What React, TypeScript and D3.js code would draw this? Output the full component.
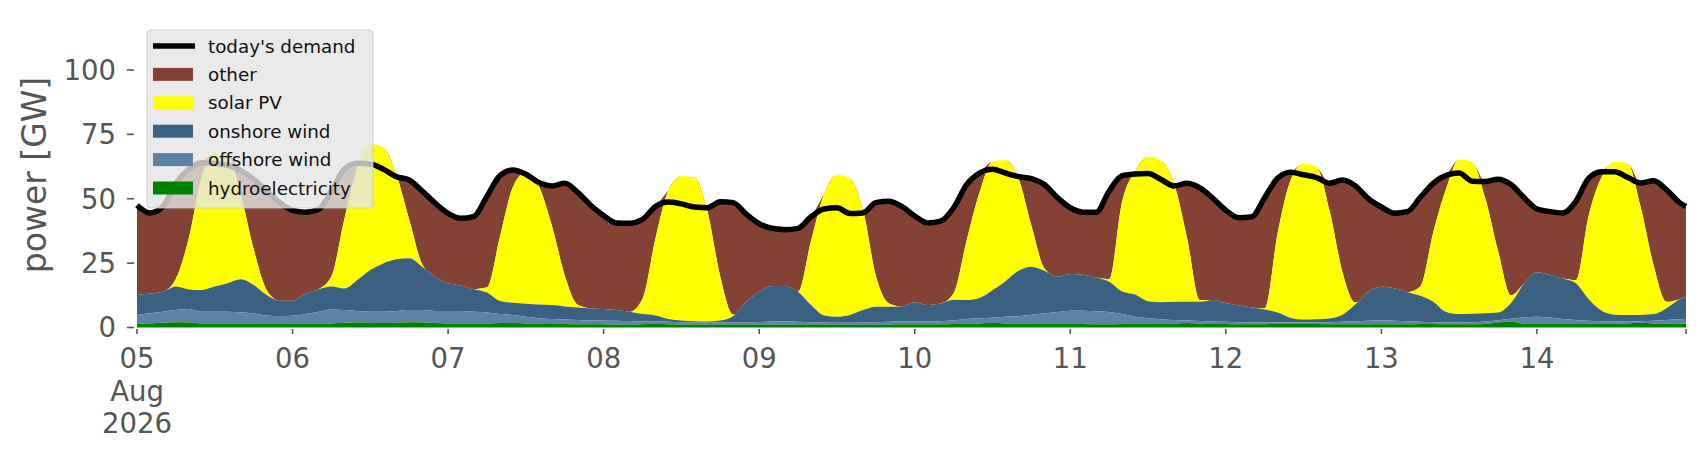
import * as d3 from "d3";

// hourly samples (every 2 h) from 05 Aug 2026 00:00, last point 14 Aug 23:00
const START = Date.UTC(2026, 7, 5);
const HOURS = [...d3.range(0, 240, 2), 239];

// GW, one line per day (05 .. 14)
const HYDRO = [
  1.5, 1.6, 1.8, 2.0, 1.9, 1.6, 1.5, 1.5, 1.6, 1.5, 1.4, 1.4,
  1.5, 1.6, 1.5, 1.6, 1.8, 1.9, 1.8, 1.7, 1.8, 2.0, 1.9, 1.7,
  1.6, 1.5, 1.5, 1.6, 1.7, 1.8, 1.6, 1.5, 1.4, 1.4, 1.3, 1.3,
  1.3, 1.2, 1.2, 1.3, 1.4, 1.3, 1.2, 1.2, 1.1, 1.1, 1.1, 1.1,
  1.1, 1.1, 1.1, 1.2, 1.2, 1.2, 1.2, 1.1, 1.1, 1.1, 1.2, 1.3,
  1.3, 1.3, 1.3, 1.4, 1.5, 1.6, 1.7, 1.6, 1.5, 1.5, 1.4, 1.4,
  1.4, 1.4, 1.3, 1.3, 1.4, 1.5, 1.5, 1.4, 1.5, 1.7, 1.5, 1.4,
  1.4, 1.3, 1.3, 1.3, 1.4, 1.4, 1.4, 1.4, 1.3, 1.3, 1.3, 1.3,
  1.3, 1.3, 1.3, 1.4, 1.4, 1.3, 1.3, 1.3, 1.4, 1.9, 2.2, 1.5,
  1.4, 1.4, 1.4, 1.4, 1.4, 1.4, 1.5, 1.6, 1.7, 1.6, 1.5, 1.5, 1.5,
];
const OFFSHORE = [
  3.4, 3.9, 4.3, 4.8, 5.3, 4.5, 4.6, 4.6, 4.3, 4.0, 3.3, 3.1,
  3.1, 3.6, 4.6, 5.4, 5.0, 4.5, 4.3, 4.4, 4.6, 4.8, 4.9, 4.7,
  4.8, 4.9, 4.6, 4.2, 3.5, 3.1, 2.6, 2.1, 1.9, 1.7, 1.6, 1.5,
  1.4, 1.4, 1.3, 1.1, 0.9, 0.9, 0.8, 0.7, 0.8, 0.8, 0.8, 0.8,
  1.0, 1.2, 1.2, 1.0, 0.8, 0.7, 0.6, 0.7, 0.8, 0.9, 1.0, 1.0,
  1.0, 1.0, 1.1, 1.4, 1.8, 2.0, 2.1, 2.6, 2.9, 3.5, 4.1, 4.6,
  5.1, 5.1, 5.0, 4.7, 3.8, 2.7, 2.1, 1.8, 1.4, 1.0, 1.0, 0.9,
  0.8, 0.7, 0.6, 0.6, 0.5, 0.5, 0.5, 0.5, 0.7, 0.9, 1.1, 1.3,
  1.4, 1.3, 1.1, 0.8, 0.6, 0.6, 0.6, 0.7, 0.9, 0.9, 1.2, 2.4,
  2.8, 2.5, 1.9, 1.5, 1.2, 1.0, 0.8, 0.7, 0.7, 1.0, 1.4, 1.7, 1.8,
];
const ONSHORE = [
  7.7, 7.7, 7.8, 9.1, 7.6, 8.5, 9.8, 11.1, 12.8, 11.0, 7.9, 5.9,
  5.8, 7.8, 8.7, 8.9, 8.3, 12.0, 16.2, 18.8, 20.1, 20.1, 16.8, 13.3,
  10.8, 9.9, 8.8, 7.8, 5.1, 4.7, 5.0, 5.3, 5.4, 5.1, 4.9, 4.6,
  4.5, 4.2, 3.6, 2.8, 2.4, 1.1, 0.7, 0.5, 0.4, 0.8, 2.6, 8.1,
  11.8, 13.8, 13.8, 11.7, 6.7, 2.8, 2.4, 3.1, 4.9, 6.1, 5.9, 5.8,
  7.5, 6.4, 6.9, 8.0, 7.4, 7.9, 10.7, 13.8, 17.6, 18.6, 16.5, 13.7,
  14.3, 14.0, 13.1, 11.8, 8.8, 8.6, 6.6, 6.6, 7.1, 7.3, 7.5, 8.4,
  7.3, 6.5, 5.9, 5.1, 3.9, 1.8, 1.2, 1.3, 1.5, 2.8, 6.6, 11.4,
  13.1, 12.6, 11.3, 10.1, 8.0, 4.1, 3.3, 3.3, 3.2, 3.0, 6.1, 13.1,
  17.3, 16.6, 15.7, 14.3, 8.4, 4.1, 2.7, 2.6, 2.5, 2.6, 4.6, 7.8, 8.7,
];
const SOLAR = [
  0, 0, 0, 3, 20, 44, 52, 50, 33, 14, 2, 0,
  0, 0, 0, 4, 27, 44, 49, 45, 33, 15, 1, 0,
  0, 0, 0, 2, 25, 45, 51, 46, 31, 12, 1, 0,
  0, 0, 0, 6, 30, 50, 56, 56, 43, 17, 0.5, 0,
  0, 0, 0, 0, 25, 47, 55, 53, 39, 12, 1.3, 0,
  0, 0, 0, 2.5, 23, 41, 50, 47, 36, 16, 1, 0,
  0, 0, 0, 1, 35, 48, 56, 55, 46, 25, 0.7, 0,
  0, 0, 0, 0.4, 31, 53.6, 60.5, 59, 42, 16.5, 0.7, 0,
  0, 0, 0, 3.6, 27, 48, 60, 59, 45, 24, 3, 0,
  0, 0, 0, 1.2, 32.7, 52, 59.4, 58.9, 42, 19, 2.5, 0, 0,
];
const OTHER = [
  34.9, 31.3, 33.1, 37.1, 26.7, 5.4, 0, 0, 9.3, 27.0, 38.4, 38.1,
  35.1, 31.8, 31.0, 33.1, 19.4, 1.4, 0, 0, 0, 15.4, 28.4, 28.6,
  27.1, 26.1, 28.3, 35.4, 23.7, 6.6, 0, 1.4, 15.3, 35.8, 43.7, 40.1,
  36.3, 33.8, 34.4, 30.8, 12.3, 0, 0, 0, 1.2, 29.1, 43.5, 34.0,
  26.4, 23.5, 23.0, 24.6, 9.3, 0, 0, 0, 0, 28.4, 39.6, 38.9,
  33.5, 31.9, 32.0, 33.2, 21.8, 7.5, 0, 0, 0.6, 18.2, 32.5, 30.8,
  25.7, 24.3, 25.4, 34.2, 10.0, 0, 0, 0, 0, 21.0, 43.5, 39.5,
  36.0, 34.1, 35.2, 43.1, 21.2, 3.0, 0, 0, 10.5, 35.8, 45.3, 36.0,
  31.0, 29.2, 31.3, 34.6, 19.0, 5.1, 0, 0, 6.2, 27.8, 43.0, 33.5,
  24.5, 24.5, 25.5, 30.6, 14.3, 2.0, 0, 0, 9.2, 32.8, 43.5, 37.5, 35.0,
];
const DEMAND = [
  47.5, 44.5, 47, 56, 61.5, 64, 63.7, 63, 61, 57.5, 53, 48.5,
  45.5, 44.8, 45.8, 53, 61.5, 63.8, 63.5, 61.5, 58.6, 57.3, 53, 48.3,
  44.3, 42.4, 43.2, 51, 59, 61.2, 59.5, 56.3, 55, 56, 52.5, 47.5,
  43.5, 40.6, 40.5, 42, 47, 48.7, 48, 46.8, 46.5, 48.8, 48.5, 44,
  40.3, 38.5, 38, 38.5, 43, 46, 46.5, 44.3, 44.5, 48.5, 49, 47,
  43.3, 40.6, 41.3, 46.5, 55.5, 60, 61.5, 60, 58.6, 57.8, 55.5, 50.5,
  46.5, 44.8, 44.8, 53, 59, 59.6, 59.8, 57.5, 55, 56, 54.2, 50.2,
  45.5, 42.6, 43, 50.5, 58, 60.3, 59.3, 58.2, 56, 57.3, 55, 50,
  46.8, 44.4, 45, 50.5, 56, 59.1, 60, 56.8, 56.7, 57.6, 55.5, 50.5,
  46, 45, 44.5, 49, 58, 60.5, 60.5, 58.3, 56.1, 57, 53.5, 48.5, 47,
];

const KEYS = ["hydro", "offshore", "onshore", "solar", "other"];
const COLORS: Record<string, string> = {
  hydro: "#008000",
  offshore: "#5b83a6",
  onshore: "#3a6182",
  solar: "#ffff00",
  other: "#834234",
};
const LEGEND = [
  { key: "demand", label: "today's demand" },
  { key: "other", label: "other" },
  { key: "solar", label: "solar PV" },
  { key: "onshore", label: "onshore wind" },
  { key: "offshore", label: "offshore wind" },
  { key: "hydro", label: "hydroelectricity" },
];
const Y_TICKS = [0, 25, 50, 75, 100];

const W = 1706;
const H = 460;
const FONT = "DejaVu Sans, sans-serif";
const TICK_GREY = "#555555";

export default function App() {
  const times = HOURS.map((h) => new Date(START + h * 3600e3));
  const rows = times.map((t, i) => ({
    t,
    hydro: HYDRO[i],
    offshore: OFFSHORE[i],
    onshore: ONSHORE[i],
    solar: SOLAR[i],
    other: OTHER[i],
  }));

  const x = d3
    .scaleUtc()
    .domain([times[0], times[times.length - 1]])
    .range([137, 1686]);
  const y = d3.scaleLinear().domain([0, 120]).range([327.5, 18.5]);

  const series = d3.stack<any>().keys(KEYS)(rows);
  const area = d3
    .area<any>()
    .x((d) => x(d.data.t))
    .y0((d) => y(d[0]))
    .y1((d) => y(d[1]))
    .curve(d3.curveMonotoneX);
  const line = d3
    .line<number>()
    .x((_, i) => x(times[i]))
    .y((d) => y(d))
    .curve(d3.curveMonotoneX);

  const dayTicks = x.ticks(d3.utcDay.every(1)!);
  const fmtDay = d3.utcFormat("%d");
  const xBase = y(0);

  return (
    <svg
      width={W}
      height={H}
      style={{ position: "absolute", left: 0, top: 0, background: "#fff" }}
      fontFamily={FONT}
    >
      {/* top layer first, so lower layers hide its zero-height slivers */}
      {[...series].reverse().map((s) => (
        <path key={s.key} d={area(s) || ""} fill={COLORS[s.key]} />
      ))}
      <path
        d={line(DEMAND) || ""}
        fill="none"
        stroke="#000"
        strokeWidth={5.5}
        strokeLinejoin="round"
      />

      {/* y axis */}
      {Y_TICKS.map((v) => (
        <g key={v}>
          <line x1={127} x2={134} y1={y(v)} y2={y(v)} stroke={TICK_GREY} strokeWidth={1.6} />
          <text
            x={116}
            y={y(v)}
            dy="0.36em"
            textAnchor="end"
            fontSize={27.5}
            fill={TICK_GREY}
          >
            {v}
          </text>
        </g>
      ))}
      <text
        transform={`translate(46, 175) rotate(-90)`}
        textAnchor="middle"
        fontSize={33}
        fill={TICK_GREY}
      >
        power [GW]
      </text>

      {/* x axis */}
      {[...dayTicks, times[times.length - 1]].map((d, i) => (
        <line
          key={i}
          x1={x(d)}
          x2={x(d)}
          y1={xBase + 1.5}
          y2={xBase + 6.5}
          stroke={TICK_GREY}
          strokeWidth={1.6}
        />
      ))}
      {dayTicks.map((d, i) => (
        <text
          key={i}
          x={x(d)}
          y={368}
          textAnchor="middle"
          fontSize={27.5}
          fill={TICK_GREY}
        >
          {fmtDay(d)}
          {i === 0 && (
            <>
              <tspan x={x(d)} y={400.5}>
                {d3.utcFormat("%b")(d)}
              </tspan>
              <tspan x={x(d)} y={433}>
                {d3.utcFormat("%Y")(d)}
              </tspan>
            </>
          )}
        </text>
      ))}

      {/* legend */}
      <g>
        <rect
          x={147}
          y={30}
          width={226}
          height={178}
          rx={4}
          fill="#e5e5e5"
          fillOpacity={0.8}
          stroke="#cccccc"
          strokeOpacity={0.8}
          strokeWidth={1.2}
        />
        {LEGEND.map((e, i) => {
          const cy = 46 + i * 28.4;
          return (
            <g key={e.key}>
              {e.key === "demand" ? (
                <line x1={153} x2={195} y1={cy} y2={cy} stroke="#000" strokeWidth={5.5} />
              ) : (
                <rect x={153} y={cy - 6.5} width={40} height={13} fill={COLORS[e.key]} />
              )}
              <text x={208} y={cy} dy="0.36em" fontSize={18.3} fill="#111">
                {e.label}
              </text>
            </g>
          );
        })}
      </g>
    </svg>
  );
}
